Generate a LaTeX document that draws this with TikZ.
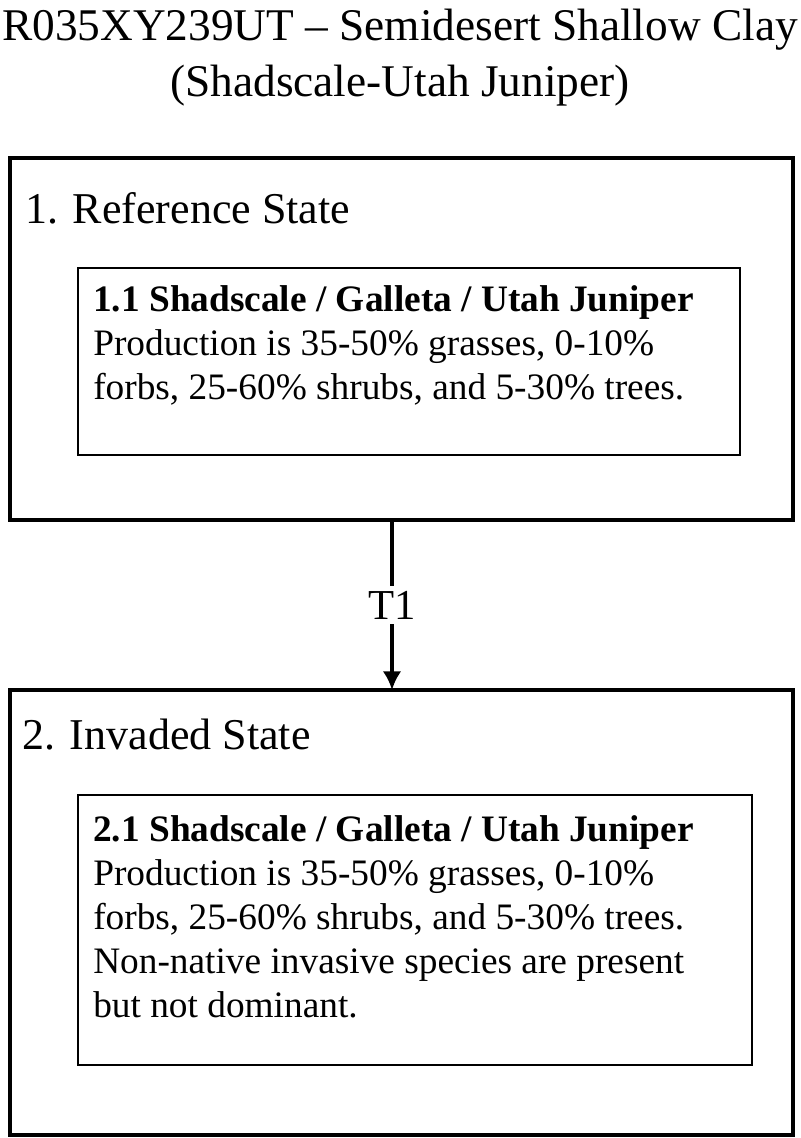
\documentclass[tikz,border=0pt]{standalone}
\usepackage{fontspec}
\usetikzlibrary{arrows.meta}
\setmainfont{Liberation Serif}
\begin{document}
\begin{tikzpicture}[x=0.75pt,y=-0.75pt,
  outerbox/.style={draw,line width=2.6pt},
  innerbox/.style={draw,line width=1.6pt},
  lbl/.style={anchor=west,inner sep=0pt,font=\fontsize{33}{38}\selectfont},
  body/.style={anchor=north west,inner sep=0pt,align=left,font=\fontsize{28}{33}\selectfont}]
\useasboundingbox (0,0) rectangle (800,1138);
\node[font=\fontsize{34}{42}\selectfont,align=center,inner sep=0pt] (title) at (400,58) {R035XY239UT -- Semidesert Shallow Clay\\(Shadscale-Utah Juniper)};
\draw[outerbox] (10,158) rectangle (793,520);
\node[lbl] (s1) at (25,208) {1. Reference State};
\draw[innerbox] (78,268) rectangle (740,455);
\node[body] (c1) at (93,285) {\textbf{1.1 Shadscale / Galleta / Utah Juniper}\\Production is 35-50\% grasses, 0-10\%\\forbs, 25-60\% shrubs, and 5-30\% trees.};
\draw[outerbox] (10,690) rectangle (793,1135);
\node[lbl] (s2) at (22,735) {2. Invaded State};
\draw[innerbox] (78,795) rectangle (752,1065);
\node[body] (c2) at (93,815) {\textbf{2.1 Shadscale / Galleta / Utah Juniper}\\Production is 35-50\% grasses, 0-10\%\\forbs, 25-60\% shrubs, and 5-30\% trees.\\Non-native invasive species are present\\but not dominant.};
\coordinate (a) at (392,520);
\coordinate (b) at (392,690);
\draw[line width=2.8pt,-{Latex[length=14pt,width=14pt]}] (a) -- node[fill=white,font=\fontsize{32}{36}\selectfont,inner sep=4pt] (t1) {T1} (b);
\end{tikzpicture}
\end{document}
